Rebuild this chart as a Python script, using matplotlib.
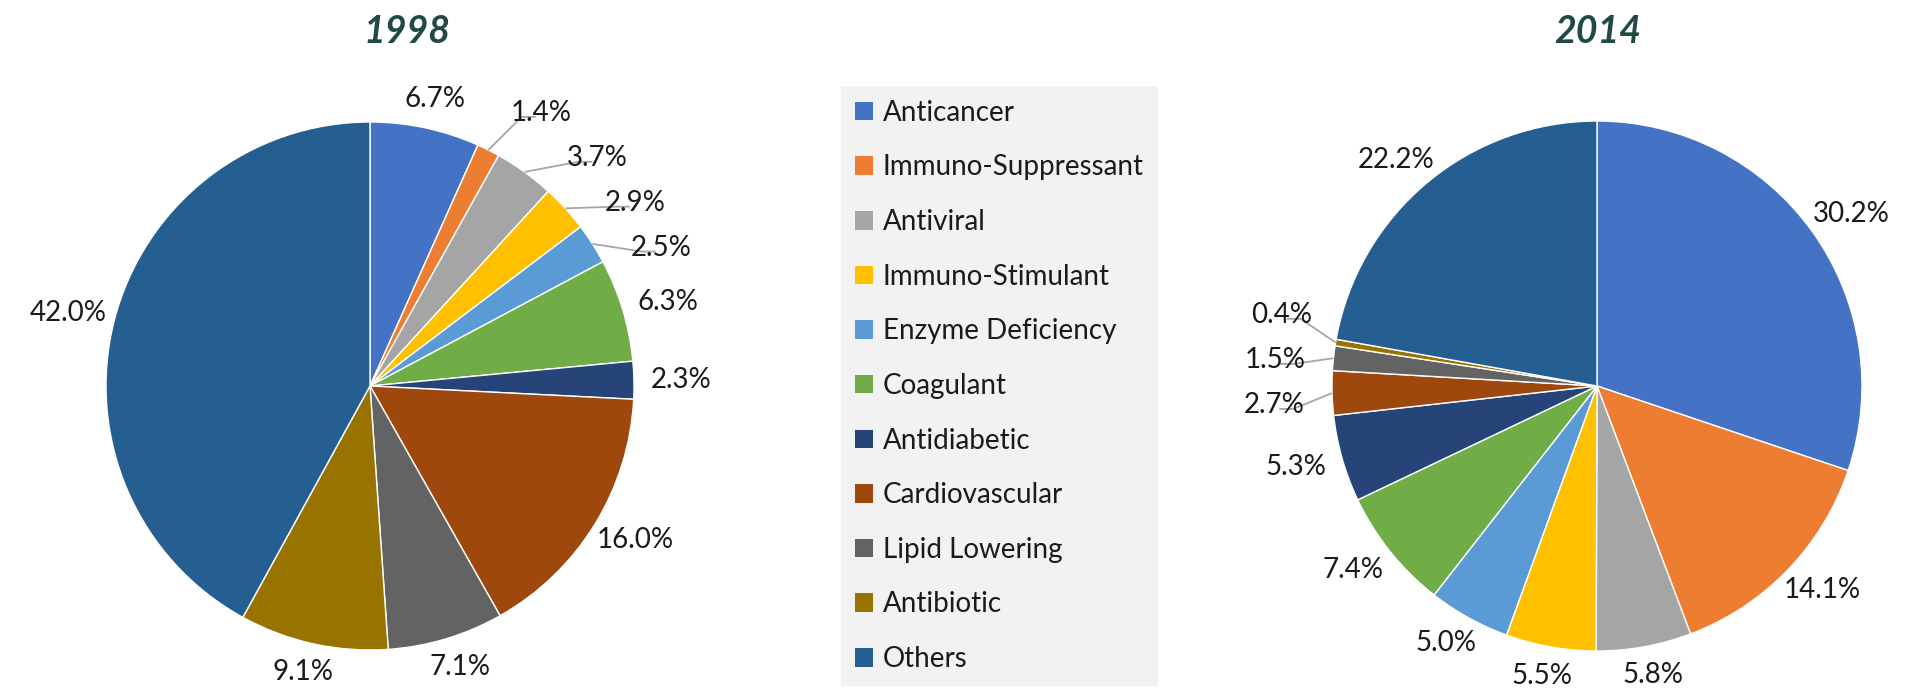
import numpy as np
import matplotlib
matplotlib.use("Agg")
import matplotlib.pyplot as plt
from matplotlib.patches import Patch

# ---------------- data ----------------
categories = ["Anticancer", "Immuno-Suppressant", "Antiviral", "Immuno-Stimulant",
              "Enzyme Deficiency", "Coagulant", "Antidiabetic", "Cardiovascular",
              "Lipid Lowering", "Antibiotic", "Others"]
values_1998 = [6.7, 1.4, 3.7, 2.9, 2.5, 6.3, 2.3, 16.0, 7.1, 9.1, 42.0]
values_2014 = [30.2, 14.1, 5.8, 5.5, 5.0, 7.4, 5.3, 2.7, 1.5, 0.4, 22.2]
years = ["1998", "2014"]
colors = ["#4472C4", "#ED7D31", "#A5A5A5", "#FFC000", "#5B9BD5", "#70AD47",
          "#264478", "#9E480E", "#636363", "#997300", "#255E91"]

# ---------------- style ----------------
plt.rcParams["font.family"] = ["Lato", "DejaVu Sans"]
W, H = 1916, 694
TXT = "#1a1a1a"
LABEL_FS = 20
LEGEND_FS = 20
TITLE_FS = 27
TITLE_COLOR = "#1F4A45"
LEADER = "#A6A6A6"

fig = plt.figure(figsize=(W / 100, H / 100), dpi=100)
ax = fig.add_axes([0, 0, 1, 1])

G, HW, HH = 0.06, 0.12, 0.05   # default label offset (in radius units)
D = 1.22                        # distance for crowded labels
WB, HB = 0.40, 0.17             # label box clearance


def layout(vals, mids):
    n = len(vals)
    pct = np.array(vals) / sum(vals) * 100
    small = pct < 4
    crowded = [bool(small[i] and (small[(i - 1) % n] or small[(i + 1) % n])) for i in range(n)]
    pos = np.zeros((n, 2))
    for i, m in enumerate(mids):
        c, s = np.cos(m), np.sin(m)
        if crowded[i]:
            pos[i] = [D * c, D * s]
        else:
            pos[i] = [(1 + G + HW) * c, (1 + G + HH) * s]
    clusters, cur = [], []
    for i in range(n):
        if crowded[i]:
            cur.append(i)
        elif cur:
            clusters.append(cur)
            cur = []
    if cur:
        clusters.append(cur)
    fixed = [i for i in range(n) if not crowded[i]]

    def place(cl, ys):
        for i, y in zip(cl, ys):
            sg = 1 if np.cos(mids[i]) >= 0 else -1
            pos[i] = [sg * np.sqrt(max(D * D - y * y, 0)), y]

    for cl in clusters:
        order = sorted(cl, key=lambda i: -pos[i, 1])
        side = 1 if np.cos(mids[cl[0]]) >= 0 else -1
        mean = pos[order, 1].mean()
        k = len(order)
        ys = [mean + (k - 1) / 2 * HB - j * HB for j in range(k)]
        place(order, ys)
        for _ in range(400):
            moved = False
            for f in fixed:
                for i in order:
                    if abs(pos[f, 0] - pos[i, 0]) < WB and abs(pos[f, 1] - pos[i, 1]) < HB:
                        # move the cluster away from the fixed label along the clockwise order
                        before = f < min(cl)
                        d = (-1 if before else 1) * side
                        ys = [y + 0.005 * d for y in ys]
                        place(order, ys)
                        moved = True
                        break
                if moved:
                    break
            if not moved:
                break
    return pos, crowded


def draw_pie(vals, cx, cy, r, title, tx):
    wedges, _ = ax.pie(vals, colors=colors, startangle=90, counterclock=False,
                       center=(cx, cy), radius=r,
                       wedgeprops=dict(edgecolor="white", linewidth=1.0))
    mids = [np.deg2rad((w.theta1 + w.theta2) / 2) for w in wedges]
    pos, crowded = layout(vals, mids)
    texts = []
    for i, v in enumerate(vals):
        px, py = cx + r * pos[i, 0], cy + r * pos[i, 1]
        t = ax.text(px, py, f"{v:.1f}%", fontsize=LABEL_FS, color=TXT,
                    ha="center", va="center")
        texts.append((t, px, py))
    renderer = fig.canvas.get_renderer()
    inv = ax.transData.inverted()
    for i in range(len(vals)):
        if not crowded[i]:
            continue
        t, px, py = texts[i]
        bb = t.get_window_extent(renderer).transformed(inv)
        m = mids[i]
        sg = 1 if np.cos(m) >= 0 else -1
        edge = bb.x0 - 5 if sg > 0 else bb.x1 + 5
        end = (edge, py - 4)
        elbow = (edge - sg * 14, py - 4)
        anchor = (cx + r * np.cos(m), cy + r * np.sin(m))
        if sg * (elbow[0] - anchor[0]) > 0:
            pts = [anchor, elbow, end]
        else:
            pts = [anchor, end]
        xs, ys = zip(*pts)
        ax.plot(xs, ys, color=LEADER, lw=1.3, solid_capstyle="butt", zorder=1)
    ax.text(tx, H - 43, title, fontsize=TITLE_FS, fontweight="bold",
            fontstyle="italic", color=TITLE_COLOR, ha="center", va="baseline")


draw_pie(values_1998, 370, H - 386, 264, years[0], 407)
draw_pie(values_2014, 1597, H - 386, 265, years[1], 1598)

ax.set_xlim(0, W)
ax.set_ylim(0, H)
ax.set_aspect("equal")
ax.axis("off")

handles = [Patch(facecolor=c, edgecolor="none") for c in colors]
leg = fig.legend(handles, categories, loc="upper left",
                 bbox_to_anchor=(841 / W, 1 - 86 / H), bbox_transform=fig.transFigure,
                 frameon=True, facecolor="#F2F2F2", edgecolor="none", framealpha=1,
                 fancybox=False, fontsize=LEGEND_FS, labelspacing=1.03,
                 handlelength=0.65, handleheight=0.65, handletextpad=0.35,
                 borderpad=0.5, borderaxespad=0)
for t in leg.get_texts():
    t.set_color(TXT)

fig.savefig("out.png", dpi=100)
